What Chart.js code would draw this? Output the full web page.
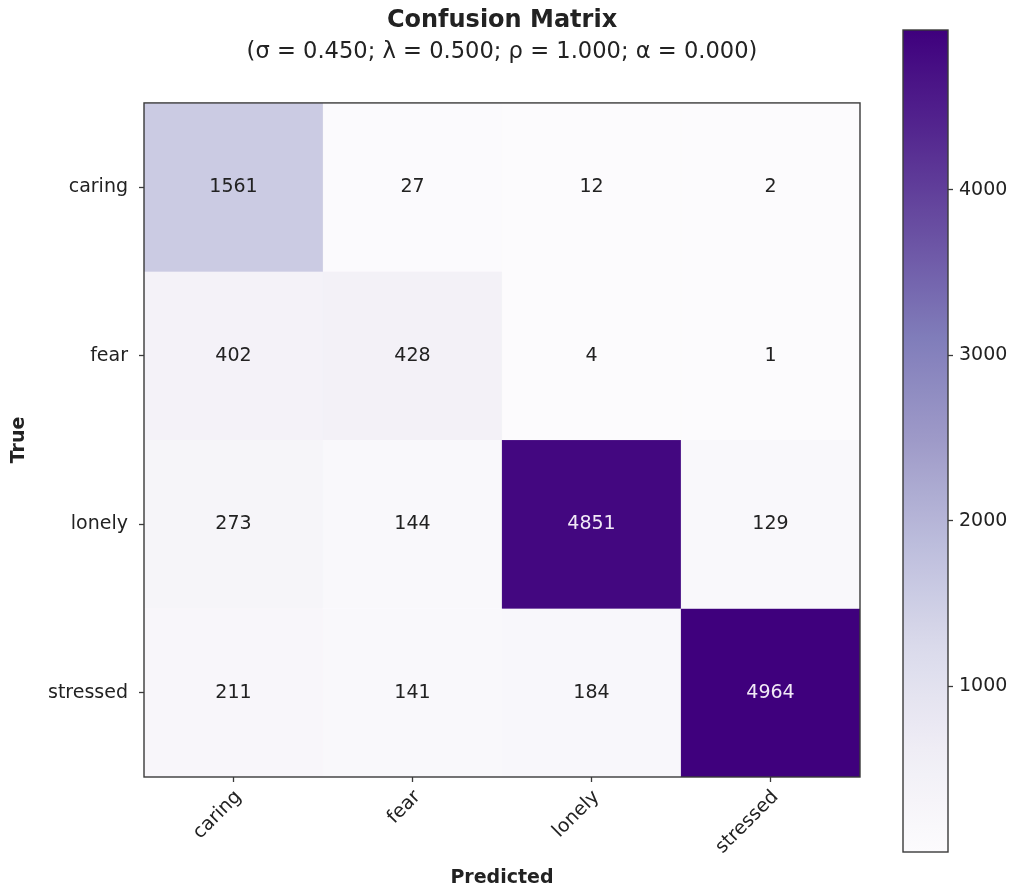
<!DOCTYPE html>
<html>
<head>
<meta charset="utf-8">
<script src="https://cdn.jsdelivr.net/npm/chart.js@4"></script>
<style>
  html, body { margin: 0; padding: 0; background: #fff; }
  #wrap { position: relative; width: 1014px; height: 890px; }
  #matrix { position: absolute; left: 0; top: 0; }
  #cbar { position: absolute; left: 860px; top: 0; }
</style>
</head>
<body>
<div id="wrap">
  <canvas id="matrix" width="1014" height="890"></canvas>
  <canvas id="cbar" width="154" height="890"></canvas>
</div>
<script>
// Class names (rows = true label, columns = predicted label)
const predictedLabels = ['caring', 'fear', 'lonely', 'stressed'];
const trueLabels = ['caring', 'fear', 'lonely', 'stressed'];

// Confusion counts, one array per true class
const rowCaring   = [1561, 27, 12, 2];
const rowFear     = [402, 428, 4, 1];
const rowLonely   = [273, 144, 4851, 129];
const rowStressed = [211, 141, 184, 4964];
const counts = [rowCaring, rowFear, rowLonely, rowStressed];

// Colour bar tick values
const colorbarTicks = [1000, 2000, 3000, 4000];

const titleText = 'Confusion Matrix';
const subtitleText = '(\u03C3 = 0.450; \u03BB = 0.500; \u03C1 = 1.000; \u03B1 = 0.000)';

// "Purples" sequential palette
const purples = ['#fcfbfd', '#efedf5', '#dadaeb', '#bcbddc', '#9e9ac8', '#807dba', '#6a51a3', '#54278f', '#3f007d'];

function hexToRgb(h) {
  return [parseInt(h.slice(1, 3), 16), parseInt(h.slice(3, 5), 16), parseInt(h.slice(5, 7), 16)];
}
const purplesRgb = purples.map(hexToRgb);
function purplesAt(t) {
  t = Math.max(0, Math.min(1, t));
  const pos = t * (purplesRgb.length - 1);
  const i = Math.min(Math.floor(pos), purplesRgb.length - 2);
  const f = pos - i;
  const a = purplesRgb[i], b = purplesRgb[i + 1];
  const c = a.map((v, k) => Math.round(v + (b[k] - v) * f));
  return `rgb(${c[0]},${c[1]},${c[2]})`;
}

const allValues = counts.flat();
const vmin = Math.min(...allValues);
const vmax = Math.max(...allValues);
const textThreshold = vmax / 2;
const norm = v => (v - vmin) / (vmax - vmin);

const FONT = "'DejaVu Sans', sans-serif";
const INK = '#222';
const EDGE = '#3a3a3a';
const LABEL_SIZE = 19;

// Frame around the plotting area
const framePlugin = {
  id: 'frame',
  afterDraw(chart) {
    const { ctx, chartArea: a } = chart;
    ctx.save();
    ctx.strokeStyle = EDGE;
    ctx.lineWidth = 1.4;
    ctx.strokeRect(a.left, a.top, a.right - a.left, a.bottom - a.top);
    ctx.restore();
  }
};

// Count written in the middle of each cell
const cellTextPlugin = {
  id: 'cellText',
  afterDatasetsDraw(chart) {
    const { ctx } = chart;
    ctx.save();
    ctx.font = `${LABEL_SIZE}px ${FONT}`;
    ctx.textAlign = 'center';
    ctx.textBaseline = 'middle';
    chart.data.datasets.forEach((ds, i) => {
      const meta = chart.getDatasetMeta(i);
      meta.data.forEach((el, j) => {
        const v = counts[i][j];
        const p = el.getCenterPoint();
        ctx.fillStyle = v > textThreshold ? '#f1e9f6' : INK;
        ctx.fillText(String(v), p.x, p.y);
      });
    });
    ctx.restore();
  }
};

const datasets = counts.map((row, i) => ({
  label: trueLabels[i],
  data: row.map(() => [i - 0.5, i + 0.5]),
  backgroundColor: row.map(v => purplesAt(norm(v))),
  borderColor: row.map(v => purplesAt(norm(v))),
  borderWidth: 0.6,
  borderSkipped: false,
  grouped: false,
  barPercentage: 1,
  categoryPercentage: 1
}));

new Chart(document.getElementById('matrix'), {
  type: 'bar',
  data: { labels: predictedLabels, datasets },
  plugins: [framePlugin, cellTextPlugin],
  options: {
    responsive: false,
    animation: false,
    devicePixelRatio: 1,
    layout: { padding: { left: 0, right: 154, top: 0, bottom: 0 } },
    plugins: {
      legend: { display: false },
      tooltip: { enabled: false },
      title: {
        display: true,
        text: titleText,
        fullSize: false,
        color: INK,
        font: { family: FONT, size: 24, weight: 'bold' },
        padding: { top: 6, bottom: 0 }
      },
      subtitle: {
        display: true,
        text: subtitleText,
        fullSize: false,
        color: INK,
        font: { family: FONT, size: 22.6 },
        padding: { top: 4, bottom: 37 }
      }
    },
    scales: {
      x: {
        type: 'category',
        offset: true,
        afterFit(s) { s.height = 113; },
        grid: { display: true, offset: false, drawOnChartArea: false, tickLength: 5, tickWidth: 1.3, tickColor: EDGE },
        border: { display: false },
        ticks: { color: INK, font: { family: FONT, size: LABEL_SIZE }, minRotation: 45, maxRotation: 45, padding: 4, labelOffset: 5 },
        title: { display: true, text: 'Predicted', color: INK, font: { family: FONT, size: LABEL_SIZE, weight: 'bold' }, padding: { top: 2, bottom: 1 } }
      },
      y: {
        type: 'linear',
        reverse: true,
        min: -0.5,
        max: 3.5,
        afterFit(s) { s.width = 144; },
        afterBuildTicks(s) { s.ticks = trueLabels.map((_, i) => ({ value: i })); },
        grid: { display: true, drawOnChartArea: false, tickLength: 5, tickWidth: 1.3, tickColor: EDGE },
        border: { display: false },
        ticks: { color: INK, font: { family: FONT, size: LABEL_SIZE }, padding: 11, callback: v => trueLabels[v] },
        title: { display: true, text: 'True', color: INK, font: { family: FONT, size: LABEL_SIZE, weight: 'bold' }, padding: { top: 8, bottom: 4 } }
      }
    }
  }
});

// Colour bar: a single bar spanning the value range, filled with the palette
const gradientFill = ctx => {
  const chart = ctx.chart;
  const a = chart.chartArea;
  if (!a) return purples[4];
  const g = chart.ctx.createLinearGradient(0, a.bottom, 0, a.top);
  for (let k = 0; k <= 32; k++) g.addColorStop(k / 32, purplesAt(k / 32));
  return g;
};

new Chart(document.getElementById('cbar'), {
  type: 'bar',
  data: {
    labels: [''],
    datasets: [{
      data: [[vmin, vmax]],
      backgroundColor: gradientFill,
      borderWidth: 0,
      barPercentage: 1,
      categoryPercentage: 1
    }]
  },
  plugins: [framePlugin],
  options: {
    responsive: false,
    animation: false,
    devicePixelRatio: 1,
    layout: { padding: { left: 43, right: 0, top: 30, bottom: 38 } },
    plugins: { legend: { display: false }, tooltip: { enabled: false } },
    scales: {
      x: { display: false },
      y: {
        type: 'linear',
        position: 'right',
        min: vmin,
        max: vmax,
        afterFit(s) { s.width = 66; },
        afterBuildTicks(s) { s.ticks = colorbarTicks.map(v => ({ value: v })); },
        grid: { display: true, drawOnChartArea: false, tickLength: 5, tickWidth: 1.3, tickColor: EDGE },
        border: { display: false },
        ticks: { color: INK, font: { family: FONT, size: LABEL_SIZE }, padding: 6, callback: v => String(v) }
      }
    }
  }
});
</script>
</body>
</html>
